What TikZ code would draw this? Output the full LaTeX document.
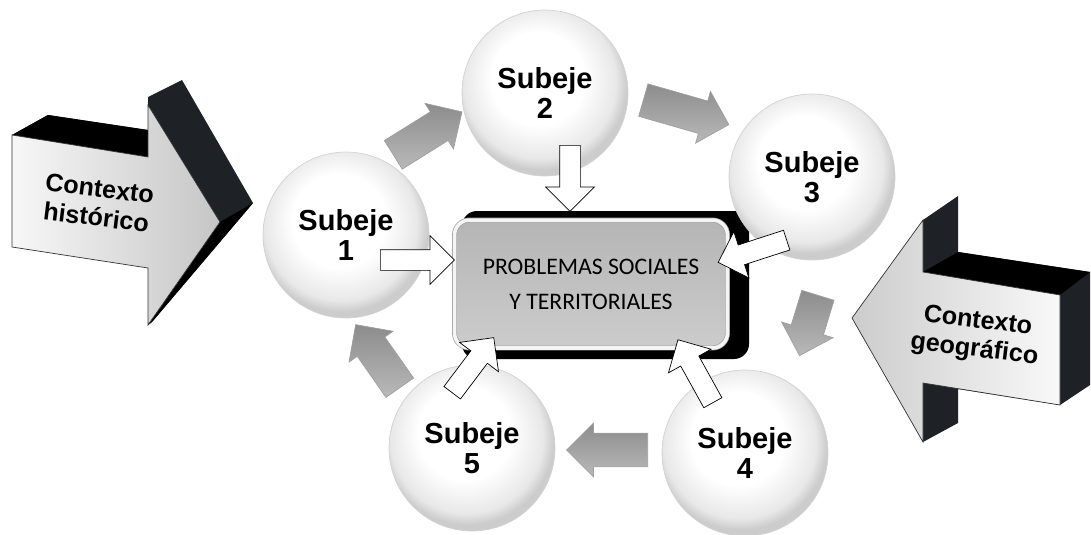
\documentclass[tikz,border=0pt]{standalone}
\usepackage{fontspec}
\setmainfont{Liberation Sans}
\newfontfamily\boxfont{Carlito}
\usetikzlibrary{shapes.arrows}

\definecolor{extrude}{HTML}{1E2226}
\pgfdeclareradialshading{bubble}{\pgfpoint{-3bp}{6bp}}{%
  color(0bp)=(white); color(14bp)=(white); color(23bp)=(gray!18);
  color(26bp)=(gray!40); color(50bp)=(gray!40)}

\tikzset{
  subeje/.style={circle, minimum size=3.32cm, inner sep=0pt, draw=gray!35,
    shading=bubble, align=center,
    font=\bfseries\fontsize{16.5}{17}\selectfont},
  ctxtext/.style={align=center, rotate=-7,
    font=\bfseries\fontsize{14.3}{16.5}\selectfont},
  ctxface/.style={draw=black!80, line width=0.4pt},
  probbox/.style={rectangle, rounded corners=0.3cm, minimum width=5.46cm,
    minimum height=2.56cm, top color=gray!58, bottom color=gray!40,
    draw=gray!75, double=gray!8, double distance=2pt, align=center,
    font=\boxfont\fontsize{13.5}{20}\selectfont},
  cyclearrow/.style={single arrow, anchor=tail, inner xsep=0pt, inner ysep=0.33cm,
    single arrow head extend=0.2cm, single arrow tip angle=90,
    draw=gray!75, top color=gray!90, bottom color=gray!55},
  tocenter/.style={single arrow, anchor=tail, inner xsep=0pt, inner ysep=0.2cm,
    single arrow head extend=0.28cm, draw=black, fill=white},
}

\begin{document}
\begin{tikzpicture}[x=0.02cm, y=-0.02cm]
  \useasboundingbox (0,0) rectangle (1091,534);

  % Contexto historico: extruded arrow on the left
  \fill[extrude] (12,135) -- (48,115) -- (148,130) -- (148,97) -- (182,80)
    -- (253,203) -- (152,322) -- (148,325) -- (148,157) -- cycle;
  \fill[black] (12,135) -- (48,115) -- (148,130) -- (148,157) -- cycle;
  \fill[black] (220,222) -- (253,203) -- (152,322) -- (148,325) -- cycle;
  \path[ctxface, left color=gray!6, right color=gray!45]
    (12,135) -- (148,157) -- (148,105) -- (220,222) -- (148,325)
    -- (148,268) -- (12,247) -- cycle;
  \node[ctxtext] (hist) at (98,203) {Contexto\\histórico};

  % Contexto geografico: extruded arrow on the right
  \fill[extrude] (923,220) -- (958,196) -- (958,252) -- (1090,272) -- (1090,385)
    -- (1060,405) -- (958,389) -- (958,423) -- (923,442) -- cycle;
  \fill[black] (923,272) -- (958,252) -- (1090,272) -- (1060,295) -- cycle;
  \path[ctxface, left color=gray!40, right color=gray!5]
    (852,318) -- (923,220) -- (923,272) -- (1060,295) -- (1060,405)
    -- (923,383) -- (923,442) -- cycle;
  \node[ctxtext] (geo) at (976,336) {Contexto\\geográfico};

  % Central box with its shadow
  \fill[black, rounded corners=0.3cm] (462,211) rectangle (749,359);
  \node[probbox] (prob) at (591,284) {PROBLEMAS SOCIALES\\Y TERRITORIALES};

  % Subejes
  \node[subeje] (s1) at (346,235) {Subeje\\1};
  \node[subeje] (s2) at (545,93) {Subeje\\2};
  \node[subeje] (s3) at (812,177) {Subeje\\3};
  \node[subeje] (s4) at (745,453) {Subeje\\4};
  \node[subeje] (s5) at (472,448) {Subeje\\5};

  % Cycle s1 -> s2 -> s3 -> s4 -> s5 -> s1
  \node[cyclearrow, minimum height=1.62cm, rotate=32] (c12) at (393,155) {};
  \node[cyclearrow, minimum height=1.78cm, rotate=-16] (c23) at (643,100) {};
  \node[cyclearrow, minimum height=1.26cm, rotate=-107] (c34) at (818,295) {};
  \node[cyclearrow, minimum height=1.62cm, rotate=180] (c45) at (648,450) {};
  \node[cyclearrow, minimum height=1.54cm, rotate=125] (c51) at (400,388) {};

  % Arrows into the central box
  \node[tocenter, minimum height=1.48cm] (w1) at (380,260) {};
  \node[tocenter, minimum height=1.32cm, rotate=-90] (w2) at (570,145) {};
  \node[tocenter, minimum height=1.44cm, rotate=198] (w3) at (787,240) {};
  \node[tocenter, minimum height=1.44cm, rotate=119] (w4) at (713,403) {};
  \node[tocenter, minimum height=1.38cm, rotate=53] (w5) at (452,393) {};
\end{tikzpicture}
\end{document}
